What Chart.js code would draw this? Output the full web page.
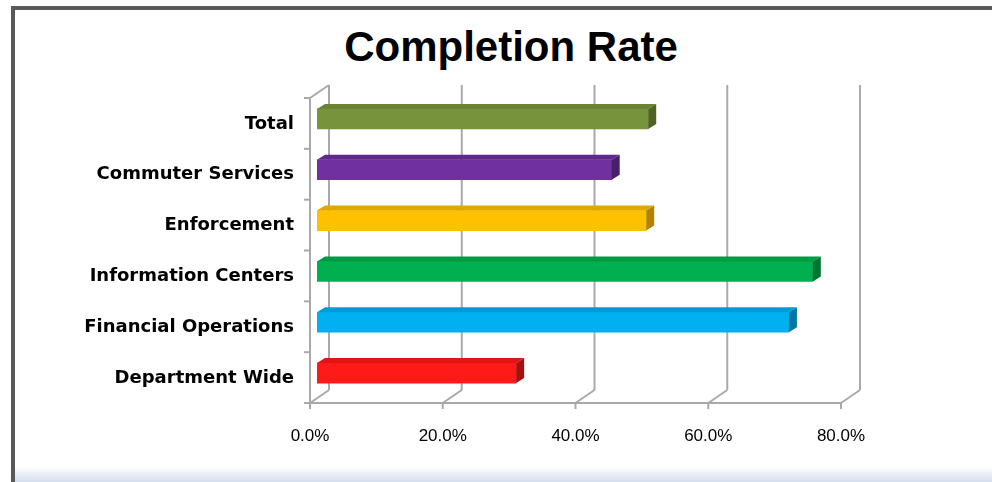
<!DOCTYPE html>
<html>
<head>
<meta charset="utf-8">
<title>Completion Rate</title>
<script src="https://cdn.jsdelivr.net/npm/chart.js@4.4.1/dist/chart.umd.min.js"></script>
<style>
  html, body { margin: 0; padding: 0; background: #fff; }
  body { width: 992px; height: 482px; position: relative; overflow: hidden; }
  .frame { position: absolute; left: 11px; top: 6px; width: 1000px; height: 500px; border: 4px solid #595959; box-sizing: border-box; }
  .sheet-edge { position: absolute; left: 15px; right: 0; top: 466px; height: 16px; background: linear-gradient(#fff, #d6dfee); }
  .title { position: absolute; left: 0; width: 1022px; top: 22px; text-align: center; font: bold 42px "Liberation Sans", Arial, sans-serif; line-height: 50px; color: #000; }
  canvas { position: absolute; left: 0; top: 0; }
</style>
</head>
<body>
<div class="frame"></div>
<div class="sheet-edge"></div>
<div class="title">Completion Rate</div>
<canvas id="rateChart" width="992" height="482"></canvas>
<script>
// Categories top to bottom
const categories = [
  "Total",
  "Commuter Services",
  "Enforcement",
  "Information Centers",
  "Financial Operations",
  "Department Wide",
];
const completionRate = [49.9, 44.4, 49.6, 74.7, 71.1, 30.0]; // percent
const axisTicks = [0, 20, 40, 60, 80];
const tickLabels = ["0.0%", "20.0%", "40.0%", "60.0%", "80.0%"];

// face / top / side shades for the 3D bars
const faceColors = ["#77933C", "#7030A0", "#FFC000", "#00B050", "#00B0F0", "#FF1A1A"];
const topColors = ["#6a8434", "#62298c", "#e0a800", "#009a45", "#009ad4", "#e01515"];
const sideColors = ["#4f6327", "#4a1f6a", "#b08400", "#007533", "#0076a3", "#a81010"];

// depth offsets (px) relative to the plane the bars' front faces sit in
const BAR_DEPTH = { x: 8, y: -5 };
const FRONT = { x: -7, y: 4.5 };
const BACK = { x: 12, y: -8.5 };

function line(ctx, x1, y1, x2, y2) {
  ctx.beginPath();
  ctx.moveTo(x1, y1);
  ctx.lineTo(x2, y2);
  ctx.stroke();
}

function poly(ctx, pts, color) {
  ctx.beginPath();
  ctx.moveTo(pts[0][0], pts[0][1]);
  for (let i = 1; i < pts.length; i++) ctx.lineTo(pts[i][0], pts[i][1]);
  ctx.closePath();
  ctx.fillStyle = color;
  ctx.fill();
}

// back wall gridlines, floor edges and the left wall
const walls = {
  id: "walls",
  beforeDatasetsDraw(chart) {
    const { ctx, chartArea: a, scales } = chart;
    const x = scales.x;
    ctx.save();
    ctx.strokeStyle = "#a9a9a9";
    ctx.lineWidth = 2;
    axisTicks.forEach((v) => {
      const px = x.getPixelForValue(v);
      line(ctx, px + BACK.x, a.top + BACK.y, px + BACK.x, a.bottom + BACK.y);
      line(ctx, px + FRONT.x, a.bottom + FRONT.y, px + BACK.x, a.bottom + BACK.y);
      line(ctx, px + FRONT.x, a.bottom + FRONT.y, px + FRONT.x, a.bottom + FRONT.y + 6);
    });
    const x0 = x.getPixelForValue(axisTicks[0]);
    const xMax = x.getPixelForValue(axisTicks[axisTicks.length - 1]);
    line(ctx, x0 + FRONT.x, a.bottom + FRONT.y, xMax + FRONT.x, a.bottom + FRONT.y);
    line(ctx, x0 + FRONT.x, a.top + FRONT.y, x0 + FRONT.x, a.bottom + FRONT.y);
    line(ctx, x0 + FRONT.x, a.top + FRONT.y, x0 + BACK.x, a.top + BACK.y);
    const step = (a.bottom - a.top) / categories.length;
    for (let i = 0; i <= categories.length; i++) {
      const yy = a.top + i * step + FRONT.y;
      line(ctx, x0 + FRONT.x - 6, yy, x0 + FRONT.x, yy);
    }
    ctx.restore();
  },
};

// top and side faces on each bar
const bars3d = {
  id: "bars3d",
  afterDatasetsDraw(chart) {
    const ctx = chart.ctx;
    ctx.save();
    chart.getDatasetMeta(0).data.forEach((bar, i) => {
      const { x, y, base, height } = bar.getProps(["x", "y", "base", "height"], true);
      const top = y - height / 2;
      const bottom = y + height / 2;
      poly(ctx, [
        [base, top],
        [x, top],
        [x + BAR_DEPTH.x, top + BAR_DEPTH.y],
        [base + BAR_DEPTH.x, top + BAR_DEPTH.y],
      ], topColors[i]);
      poly(ctx, [
        [x, top],
        [x + BAR_DEPTH.x, top + BAR_DEPTH.y],
        [x + BAR_DEPTH.x, bottom + BAR_DEPTH.y],
        [x, bottom],
      ], sideColors[i]);
    });
    ctx.restore();
  },
};

const ctx = document.getElementById("rateChart").getContext("2d");
const rateChart = new Chart(ctx, {
  type: "bar",
  data: {
    labels: categories,
    datasets: [
      {
        data: completionRate,
        backgroundColor: faceColors,
        borderWidth: 0,
        barThickness: 20,
      },
    ],
  },
  options: {
    indexAxis: "y",
    responsive: false,
    animation: false,
    layout: { padding: { top: 93.5, right: 144, bottom: 0, left: 0 } },
    plugins: {
      legend: { display: false },
      tooltip: { enabled: false },
    },
    scales: {
      x: {
        min: 0,
        max: 80,
        afterBuildTicks: (scale) => {
          scale.ticks = axisTicks.map((v) => ({ value: v }));
        },
        afterFit: (scale) => {
          scale.height = 83.5;
        },
        grid: { display: false, drawTicks: false },
        border: { display: false },
        ticks: {
          padding: 28,
          labelOffset: -7,
          maxRotation: 0,
          autoSkip: false,
          color: "#000",
          font: { family: "'Liberation Sans', Arial, sans-serif", size: 17 },
          callback: (value, index) => tickLabels[index],
        },
      },
      y: {
        afterFit: (scale) => {
          scale.width = 317;
        },
        grid: { display: false, drawTicks: false },
        border: { display: false },
        ticks: {
          padding: 23,
          labelOffset: 5,
          color: "#000",
          font: { family: "'DejaVu Sans', sans-serif", size: 18, weight: "bold" },
        },
      },
    },
  },
  plugins: [walls, bars3d],
});
</script>
</body>
</html>
